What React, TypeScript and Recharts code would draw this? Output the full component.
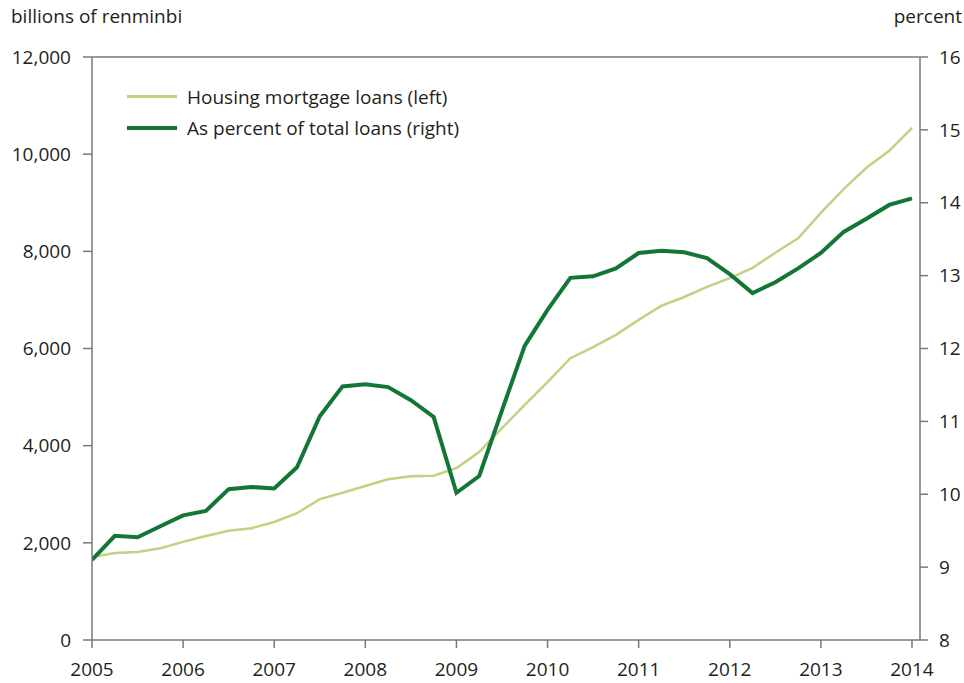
import React from 'react';
import { LineChart, Line, XAxis, YAxis, ReferenceLine } from 'recharts';

// quarterly observations, 2005Q1 .. 2014Q1
const startYear = 2005;
const yearTicks = [2005, 2006, 2007, 2008, 2009, 2010, 2011, 2012, 2013, 2014];
const leftTicks = [0, 2000, 4000, 6000, 8000, 10000, 12000];
const rightTicks = [8, 9, 10, 11, 12, 13, 14, 15, 16];

// billions of renminbi
const mortgageLoans = [
  1710, 1790, 1810, 1890, 2020, 2140, 2250, 2300, 2430, 2610,
  2900, 3030, 3170, 3310, 3370, 3380, 3540, 3870, 4360, 4840,
  5310, 5800, 6030, 6280, 6590, 6880, 7060, 7270, 7450, 7660,
  7970, 8270, 8790, 9280, 9720, 10070, 10540,
];

// percent of total loans
const shareOfTotal = [
  9.10, 9.43, 9.41, 9.56, 9.71, 9.77, 10.07, 10.10, 10.08, 10.37,
  11.07, 11.48, 11.51, 11.47, 11.29, 11.06, 10.02, 10.25, 11.15, 12.04,
  12.53, 12.97, 12.99, 13.10, 13.31, 13.34, 13.32, 13.24, 13.02, 12.76,
  12.91, 13.10, 13.31, 13.60, 13.78, 13.97, 14.06,
];

const seriesNames = ['Housing mortgage loans (left)', 'As percent of total loans (right)'];

const data = mortgageLoans.map((v, i) => ({
  t: startYear + i / 4,
  mortgage: v,
  share: shareOfTotal[i],
}));

const FONT = '"Open Sans", sans-serif';
const TEXT = '#231f20';
const AXIS = '#77787b';
const LIGHT = '#bfd383';
const DARK = '#137636';

const tickStyle = { fontSize: 19, fill: TEXT, fontFamily: FONT };

export default function App() {
  const legendItems = [
    { label: seriesNames[0], color: LIGHT, w: 2.5 },
    { label: seriesNames[1], color: DARK, w: 4 },
  ];
  return (
    <div style={{ position: 'absolute', left: 0, top: 0, width: 964, height: 683, background: '#fff' }}>
      <div style={{ position: 'absolute', left: 11, top: 3, fontFamily: FONT, fontSize: 19, color: TEXT }}>
        billions of renminbi
      </div>
      <div style={{ position: 'absolute', right: 2, top: 3, fontFamily: FONT, fontSize: 19, color: TEXT }}>
        percent
      </div>
      <LineChart width={964} height={683} data={data} margin={{ top: 57, right: 0, bottom: 0, left: 0 }}>
        <XAxis
          dataKey="t"
          type="number"
          domain={[2005, 2014.088]}
          ticks={yearTicks}
          allowDataOverflow
          height={43}
          stroke={AXIS}
          strokeWidth={1.5}
          tickSize={8}
          tickMargin={15}
          tick={tickStyle}
        />
        <YAxis
          yAxisId="left"
          domain={[0, 12000]}
          ticks={leftTicks}
          width={92}
          stroke={AXIS}
          strokeWidth={1.5}
          tickSize={9}
          tickMargin={12}
          tick={tickStyle}
          tickFormatter={(v: number) => v.toLocaleString('en-US')}
        />
        <YAxis
          yAxisId="right"
          orientation="right"
          domain={[8, 16]}
          ticks={rightTicks}
          width={44}
          stroke={AXIS}
          strokeWidth={1.5}
          tickSize={8}
          tickMargin={11}
          tick={tickStyle}
        />
        <ReferenceLine yAxisId="left" y={12000} stroke={AXIS} strokeWidth={1.5} />
        <Line
          yAxisId="left"
          dataKey="mortgage"
          name={seriesNames[0]}
          stroke={LIGHT}
          strokeWidth={2.5}
          dot={false}
          type="linear"
          isAnimationActive={false}
        />
        <Line
          yAxisId="right"
          dataKey="share"
          name={seriesNames[1]}
          stroke={DARK}
          strokeWidth={4}
          dot={false}
          type="linear"
          isAnimationActive={false}
        />
      </LineChart>
      <div style={{ position: 'absolute', left: 127, top: 81, fontFamily: FONT, fontSize: 19, color: TEXT }}>
        {legendItems.map(item => (
          <div key={item.label} style={{ display: 'flex', alignItems: 'center', height: 31 }}>
            <div style={{ width: 50, height: item.w, background: item.color, marginRight: 10 }} />
            <span>{item.label}</span>
          </div>
        ))}
      </div>
    </div>
  );
}
